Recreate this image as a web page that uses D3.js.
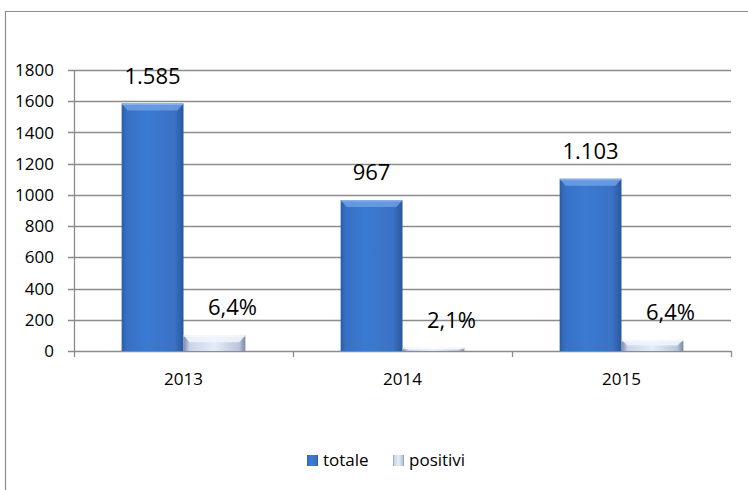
<!DOCTYPE html>
<html><head><meta charset="utf-8">
<script src="https://cdn.jsdelivr.net/npm/d3@7"></script>
<style>
html,body{margin:0;padding:0;background:#fff;}
svg{display:block;font-family:"Open Sans","Liberation Sans",sans-serif;}
</style></head>
<body>
<svg id="c" width="748" height="490"></svg>
<script>
const categories = ["2013", "2014", "2015"];
const totale = [1585, 967, 1103];
const positivi = [101, 20, 71];
const totaleLabels = ["1.585", "967", "1.103"];
const positiviLabels = ["6,4%", "2,1%", "6,4%"];
const yTicks = [0, 200, 400, 600, 800, 1000, 1200, 1400, 1600, 1800];
const seriesNames = ["totale", "positivi"];

const svg = d3.select("#c");
const W = 748, H = 490;
const m = {left: 74, right: 17, top: 70, bottom: 139};
const pw = W - m.left - m.right, ph = H - m.top - m.bottom;

// outer frame (top + left only visible)
svg.append("path").attr("d", `M5.5,${H} L5.5,11.5 L${W},11.5`).attr("fill","none").attr("stroke","#8c8c8c").attr("stroke-width",1.2);

const defs = svg.append("defs");
function hgrad(id, stops){
  const g = defs.append("linearGradient").attr("id", id).attr("x1","0").attr("x2","1").attr("y1","0").attr("y2","0");
  stops.forEach(s=>g.append("stop").attr("offset",s[0]).attr("stop-color",s[1]));
}
hgrad("gT", [[0,"#2b5da6"],[0.08,"#3670c4"],[0.4,"#3b7ad2"],[0.85,"#3a72c6"],[1,"#2a579c"]]);
hgrad("gP", [[0,"#7d8aa8"],[0.1,"#c8d4ea"],[0.5,"#e4ecf8"],[0.9,"#b9c5dc"],[1,"#7a86a2"]]);

const x = d3.scaleBand().domain(categories).range([m.left, m.left + pw]).paddingInner(0).paddingOuter(0);
const sub = d3.scaleBand().domain(seriesNames).range([0, x.bandwidth()]).paddingInner(0).paddingOuter(0.77);
const y = d3.scaleLinear().domain([0, 1800]).range([m.top + ph, m.top]);

// gridlines
svg.append("g").selectAll("line").data(yTicks).join("line")
  .attr("x1", m.left - 6).attr("x2", m.left + pw)
  .attr("y1", d => Math.round(y(d)) + 0.5).attr("y2", d => Math.round(y(d)) + 0.5)
  .attr("stroke", "#8c8c8c").attr("stroke-width", 1.3);

// y axis line
svg.append("line").attr("x1", m.left + 0.5).attr("x2", m.left + 0.5)
  .attr("y1", m.top).attr("y2", m.top + ph).attr("stroke", "#8c8c8c").attr("stroke-width", 1.3);

// y labels
svg.append("g").selectAll("text").data(yTicks).join("text")
  .attr("x", 54).attr("y", d => y(d)).attr("dy", "0.36em")
  .attr("text-anchor", "end").attr("font-size", 17).attr("fill", "#000")
  .text(d => d);

// x ticks
const bounds = categories.map(c => x(c)).concat([m.left + pw]);
svg.append("g").selectAll("line").data(bounds).join("line")
  .attr("x1", d => Math.round(d) + 0.5).attr("x2", d => Math.round(d) + 0.5)
  .attr("y1", m.top + ph).attr("y2", m.top + ph + 6)
  .attr("stroke", "#8c8c8c").attr("stroke-width", 1.3);

// x labels
svg.append("g").selectAll("text").data(categories).join("text")
  .attr("x", d => x(d) + x.bandwidth() / 2).attr("y", m.top + ph + 34)
  .attr("text-anchor", "middle").attr("font-size", 17).attr("fill", "#000")
  .text(d => d);

// bars
function drawBars(vals, name, fill, bevel, bevelDark) {
  const g = svg.append("g");
  vals.forEach((v, i) => {
    const bx = x(categories[i]) + sub(name), bw = sub.bandwidth();
    const by = y(v), bh = y(0) - y(v);
    g.append("rect").attr("x", bx).attr("y", by).attr("width", bw).attr("height", bh).attr("fill", fill);
    const b = Math.min(7, bh / 2);
    g.append("path").attr("d", `M${bx},${by} L${bx + bw},${by} L${bx + bw - 6},${by + b} L${bx + 6},${by + b} Z`).attr("fill", bevel).attr("opacity", 0.85);
    g.append("rect").attr("x", bx).attr("y", by).attr("width", bw).attr("height", 1.5).attr("fill", bevelDark).attr("opacity", 0.6);
  });
}
drawBars(totale, "totale", "url(#gT)", "#6d9fe4", "#9cc0f0");
drawBars(positivi, "positivi", "url(#gP)", "#f2f6fc", "#ffffff");

// value labels
svg.append("g").selectAll("text").data(totale).join("text")
  .attr("x", (d, i) => x(categories[i]) + sub("totale") + sub.bandwidth() / 2)
  .attr("y", d => y(d) - 20)
  .attr("text-anchor", "middle").attr("font-size", 22).attr("fill", "#000")
  .text((d, i) => totaleLabels[i]);
svg.append("g").selectAll("text").data(positivi).join("text")
  .attr("x", (d, i) => x(categories[i]) + sub("positivi") + sub.bandwidth() / 2 + 18)
  .attr("y", d => y(d) - 20)
  .attr("text-anchor", "middle").attr("font-size", 22).attr("fill", "#000")
  .text((d, i) => positiviLabels[i]);

// legend
const leg = svg.append("g");
const legItems = [{n: "totale", f: "url(#gT)", x: 307}, {n: "positivi", f: "url(#gP)", x: 393}];
legItems.forEach(it => {
  leg.append("rect").attr("x", it.x).attr("y", 455).attr("width", 11).attr("height", 11).attr("fill", it.f);
  leg.append("text").attr("x", it.x + 16).attr("y", 466).attr("font-size", 17).attr("fill", "#000").text(it.n);
});
</script>
</body></html>
